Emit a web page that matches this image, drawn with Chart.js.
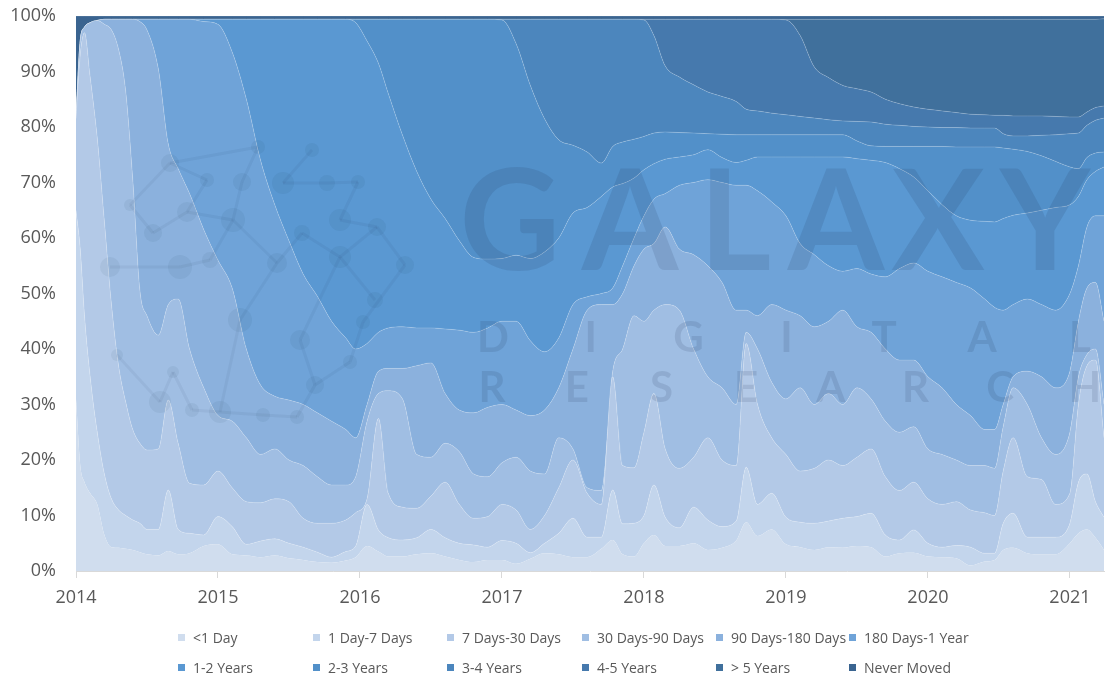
<!DOCTYPE html>
<html><head><meta charset="utf-8">
<script src="https://cdn.jsdelivr.net/npm/chart.js@4.4.1/dist/chart.umd.min.js"></script>
<style>
html,body{margin:0;padding:0;background:#fff;}
#wrap{position:relative;width:1105px;height:677px;overflow:hidden;}
#box{position:absolute;left:0;top:0;width:1105px;height:620px;}
#legend{position:absolute;left:0;top:0;width:1105px;height:677px;pointer-events:none;font-family:'Open Sans',sans-serif;font-size:14px;color:#595959;}
.li{position:absolute;height:20px;display:flex;align-items:center;white-space:nowrap;}
.sw{width:7px;height:7px;margin-right:8px;}
</style></head><body>
<div id="wrap"><div id="box"><canvas id="c"></canvas></div><div id="legend"></div></div>
<script>
// Decimal-year sample dates
const dates = [2014.00,2014.03,2014.06,2014.10,2014.15,2014.20,2014.25,2014.30,2014.35,2014.40,
2014.45,2014.50,2014.58,2014.65,2014.72,2014.80,2014.90,2015.00,2015.10,2015.20,
2015.30,2015.40,2015.50,2015.60,2015.70,2015.80,2015.90,2015.97,2016.05,2016.13,
2016.20,2016.30,2016.40,2016.50,2016.60,2016.70,2016.80,2016.90,2017.00,2017.10,
2017.20,2017.30,2017.40,2017.50,2017.60,2017.70,2017.78,2017.85,2017.93,2018.00,
2018.07,2018.15,2018.25,2018.35,2018.45,2018.55,2018.65,2018.72,2018.80,2018.90,
2019.00,2019.10,2019.20,2019.30,2019.40,2019.50,2019.60,2019.70,2019.80,2019.90,
2020.00,2020.10,2020.20,2020.30,2020.40,2020.47,2020.53,2020.60,2020.70,2020.80,
2020.90,2021.00,2021.06,2021.12,2021.18,2021.24];

const seriesNames = ['<1 Day','1 Day-7 Days','7 Days-30 Days','30 Days-90 Days','90 Days-180 Days','180 Days-1 Year',
  '1-2 Years','2-3 Years','3-4 Years','4-5 Years','> 5 Years','Never Moved'];
const yTicks = [0,10,20,30,40,50,60,70,80,90,100];
const xTicks = [2014,2015,2016,2017,2018,2019,2020,2021];

// Upper edge of each band, in % of supply (cumulative)
const lt1Day = [31,19,16,14,12,6.5,4.3,4.2,4.0,3.8,
3.4,3.0,2.8,3.6,3.0,3.2,4.5,4.8,3.0,2.8,
2.5,2.8,2.3,2.0,1.6,1.5,1.9,2.5,4.5,3.5,
2.6,2.6,3.0,3.2,2.6,2.0,1.6,2.0,2.0,1.3,
2.2,3.2,3.0,2.5,2.5,4.0,5.6,3.0,2.6,5.0,
6.5,4.5,4.5,5.0,3.8,4.2,5.5,8.8,6.3,7.5,
4.8,4.3,3.8,4.3,4.2,4.5,4.3,2.6,3.2,3.3,
2.6,2.5,2.3,1.0,1.7,2.0,3.8,4.2,3.2,3.0,
3.0,5.0,6.8,7.5,6.0,3.8];
const d1to7 = [65,58,46,35,25,17.5,13,11,10,9.2,
8.6,7.5,7.5,14.6,7.5,6.8,6.5,9.8,8.0,4.8,
5.4,5.8,5.0,4.3,3.4,2.5,3.5,4.5,12,7.4,
6.0,5.6,6.0,7.5,6.0,5.0,4.7,4.3,5.5,5.0,
3.3,5.0,6.8,9.5,6.1,6.1,14.6,8.5,8.6,10,
15.5,9.7,7.8,11.5,9.2,8.0,9.0,18.7,12,14,
9.7,8.8,8.6,9.0,9.5,9.8,10.4,6.5,5.6,7.4,
5.0,4.3,4.6,4.3,3.2,3.2,8.6,10.4,6.1,6.1,
6.1,8.6,16,17.5,12.5,9.7];
const d7to30 = [81.5,93,97,89,78,63,48,37,30.5,25.5,
23,21.8,22,30.8,23,15.8,15.5,18,15,12.5,
12.3,13,12.5,9.5,8.6,8.6,9.2,10.5,13,27.5,
14,11.5,11.3,13.5,16,12,9.5,9.8,12,11,
7.5,10,15,20,14,12,35,19,18.6,25,
32,22,18.5,20.5,24,20,19,41,30,24,
21,18,18.5,20,19,20.5,22,17,14.5,16,
13,12,12.5,11,10.5,10,18,24,17,16.5,
12,14,30,37,38,24];
const d30to90 = [81.5,95.5,98,98.8,99.2,98.5,97.5,94,86.5,70.5,
50.6,46,42.5,48,49,40,33,28,27,24,
21,22,20,19,17,15.5,15.5,17,27,32,
32.5,31,21,20.5,23,21.5,17.5,17,19.5,20.5,
18,17.5,24,22,15,14.5,36,40,46,45,
47,48,47,40,35,33,30,43,40,34,
31,33,30,32,30,33,31,27,25,26,
22,21,20,19,19,18.5,26,33,30,24,
21,25,35,39,40,30];
const d90to180 = [81.5,95.5,98,98.8,99.2,99.4,99.4,99.4,99.4,99.4,
99,97.5,90.5,77,72.5,68,61.5,56,51,40,
33.5,31.5,30.8,30,28.5,27,25.5,24,30,36,
36.5,36.5,37,37.5,32,29,28.5,29.5,30,29,
28,29,33,40,47,48,48,50,55,58,
59,62,58,57,55,52,47,47,46,48,
47,46,44,45,47,44,43,40,38,38,
35,33,30,28,25.5,25.5,30,35,36,35,
33,36,45,51,52,45];
const d180to1y = [81.5,95.5,98,98.8,99.2,99.4,99.4,99.4,99.4,99.4,
99.4,99.4,99.4,99.4,99.4,99.4,99,98.5,93.5,85,
74,66,59.5,53.5,49.5,45,42,40,41,43,
43.8,44,43.8,43.8,43.6,43.4,43,43.8,45,45,
41.5,39.5,42,48,49.4,50,51,55,60,64,
67,68,69.5,70,70.5,70,69.5,69.5,68.5,66.5,
64,59,57,55,54,54.5,53.5,53,54.5,55.5,
54,53,52,51,49,47.5,47,48,49,48,
47,50,55,62,64,64];
const y1to2 = [81.5,95.5,98,98.8,99.2,99.4,99.4,99.4,99.4,99.4,
99.4,99.4,99.4,99.4,99.4,99.4,99.4,99.4,99.4,99.4,
99.4,99.4,99.4,99.4,99.4,99.4,99.4,98.8,95.5,91.5,
86,78.5,72,67,63.5,59.5,56.5,56.2,56.3,56.9,
56.3,57.5,60,64.5,65.5,67.5,69.2,69.8,70.8,72.3,
73.4,74.2,74.6,75,75.9,74.5,73.6,74,74.6,74.6,
74.6,74.6,74.6,74.6,74.6,74.3,74,73.6,72.5,71,
68.5,66,64,63.2,63,62.9,63.5,64.1,64.5,65,
65.5,66,67.5,70.5,72,72.8];
const y2to3 = [81.5,95.5,98,98.8,99.2,99.4,99.4,99.4,99.4,99.4,
99.4,99.4,99.4,99.4,99.4,99.4,99.4,99.4,99.4,99.4,
99.4,99.4,99.4,99.4,99.4,99.4,99.4,99.4,99.4,99.4,
99.4,99.4,99.4,99.4,99.4,99.4,99.4,99.4,99.3,95,
87.5,81.5,77.7,76.7,75.5,73.5,76.5,77.3,77.8,78.3,
78.9,79.1,79,78.9,78.8,78.7,78.6,78.6,78.6,78.6,
78.6,78.6,78.6,78.6,78.6,77.5,76.6,76.5,76.5,76.5,
76.5,76.5,76.4,76.4,76.4,76.4,76.2,76,75.6,74.8,
73.8,72.8,72.5,74.5,75.3,75.5];
const y3to4 = [81.5,95.5,98,98.8,99.2,99.4,99.4,99.4,99.4,99.4,
99.4,99.4,99.4,99.4,99.4,99.4,99.4,99.4,99.4,99.4,
99.4,99.4,99.4,99.4,99.4,99.4,99.4,99.4,99.4,99.4,
99.4,99.4,99.4,99.4,99.4,99.4,99.4,99.4,99.4,99.4,
99.4,99.4,99.4,99.4,99.4,99.4,99.4,99.4,99.4,99.3,
96.5,91,89,87.6,86.3,85.5,84.6,83.2,82.9,82.5,
82.2,81.9,81.6,81.3,81.1,81,80.9,80.5,80.3,80.1,
80,79.9,79.9,79.8,79.8,79.8,78.8,78.4,78.4,78.5,
78.6,78.8,78.9,80.3,81.2,81.6];
const y4to5 = [81.5,95.5,98,98.8,99.2,99.4,99.4,99.4,99.4,99.4,
99.4,99.4,99.4,99.4,99.4,99.4,99.4,99.4,99.4,99.4,
99.4,99.4,99.4,99.4,99.4,99.4,99.4,99.4,99.4,99.4,
99.4,99.4,99.4,99.4,99.4,99.4,99.4,99.4,99.4,99.4,
99.4,99.4,99.4,99.4,99.4,99.4,99.4,99.4,99.4,99.4,
99.4,99.4,99.4,99.4,99.4,99.4,99.4,99.4,99.4,99.4,
99.3,96.5,90.8,88.9,87.5,86.9,86.3,85,84.2,83.6,
83.2,82.9,82.6,82.3,82.2,82.1,82.1,82,82,82,
81.9,81.8,81.8,82.7,83.5,83.8];
const over5y = [81.5,95.5,98,98.8,99.2,99.4,99.4,99.4,99.4,99.4,
99.4,99.4,99.4,99.4,99.4,99.4,99.4,99.4,99.4,99.4,
99.4,99.4,99.4,99.4,99.4,99.4,99.4,99.4,99.4,99.4,
99.4,99.4,99.4,99.4,99.4,99.4,99.4,99.4,99.4,99.4,
99.4,99.4,99.4,99.4,99.4,99.4,99.4,99.4,99.4,99.4,
99.4,99.4,99.4,99.4,99.4,99.4,99.4,99.4,99.4,99.4,
99.4,99.4,99.4,99.4,99.4,99.4,99.4,99.4,99.4,99.4,
99.4,99.4,99.4,99.4,99.4,99.4,99.4,99.4,99.4,99.4,
99.4,99.4,99.4,99.4,99.4,99.5];
const neverMoved = [100,100,100,100,100,100,100,100,100,100,
100,100,100,100,100,100,100,100,100,100,
100,100,100,100,100,100,100,100,100,100,
100,100,100,100,100,100,100,100,100,100,
100,100,100,100,100,100,100,100,100,100,
100,100,100,100,100,100,100,100,100,100,
100,100,100,100,100,100,100,100,100,100,
100,100,100,100,100,100,100,100,100,100,
100,100,100,100,100,100];

const seriesTops = [lt1Day,d1to7,d7to30,d30to90,d90to180,d180to1y,y1to2,y2to3,y3to4,y4to5,over5y,neverMoved];
const colors = ['#d0ddee','#c3d5ec','#b3c9e7','#a0bee3','#8bb1dd','#6fa3d8',
  '#5a98d2','#5290c9','#4c86bd','#4679ad','#40709c','#3a6490'];

const datasets = seriesTops.map((arr,i)=>({
  label: seriesNames[i],
  data: dates.map((d,j)=>({x:d,y:arr[j]})),
  backgroundColor: colors[i],
  borderColor: 'rgba(255,255,255,0.22)',
  borderWidth: i===0?0:0.8,
  pointRadius: 0,
  fill: i===0 ? 'origin' : '-1',
  cubicInterpolationMode: 'monotone'
}));

// faint network logo + lettering watermark
const logoNodes = [[170,163,9],[207,180,7],[242,182,9],[258,147,7],[283,183,11],[312,150,7],[327,183,8],[358,182,7],
  [340,220,11],[377,227,9],[130,205,6],[153,233,9],[187,212,10],[233,220,12],[277,263,10],[302,233,8],[340,257,11],
  [110,267,10],[180,267,12],[210,260,8],[117,355,6],[160,402,11],[173,372,6],[192,410,7],[220,412,11],[263,415,7],
  [297,417,7],[315,385,9],[350,362,7],[363,322,7],[405,265,9],[375,300,8],[240,320,12],[300,340,10]];
const logoEdges = [[0,1],[1,12],[3,2],[2,13],[4,5],[4,6],[6,7],[7,8],[8,9],[10,11],[11,12],[12,13],[13,14],[14,15],
  [15,16],[16,9],[17,18],[18,19],[19,13],[20,21],[21,22],[22,23],[23,24],[24,25],[25,26],[26,27],[27,28],[28,29],
  [29,30],[30,9],[31,16],[32,14],[32,24],[33,27],[33,16],[0,10],[3,0]];
const watermark = {
  id:'watermark',
  afterDatasetsDraw(chart){
    const {ctx, chartArea:a} = chart;
    ctx.save();
    ctx.beginPath(); ctx.rect(a.left,a.top,a.right-a.left,a.bottom-a.top); ctx.clip();
    ctx.strokeStyle='rgba(25,45,75,0.055)'; ctx.fillStyle='rgba(25,45,75,0.06)'; ctx.lineWidth=3;
    logoEdges.forEach(([p,q])=>{ctx.beginPath();ctx.moveTo(logoNodes[p][0],logoNodes[p][1]);ctx.lineTo(logoNodes[q][0],logoNodes[q][1]);ctx.stroke();});
    logoNodes.forEach(([x,y,r])=>{ctx.beginPath();ctx.arc(x,y,r,0,Math.PI*2);ctx.fill();});
    ctx.fillStyle='rgba(25,45,75,0.12)';
    ctx.textAlign='center'; ctx.textBaseline='alphabetic';
    ctx.font='700 139px Lato';
    const big=['G','A','L','A','X','Y'], bigX=[510,630,735,836,938,1045];
    big.forEach((ch,i)=>ctx.fillText(ch,bigX[i],270));
    ctx.font='700 42px Lato';
    'DIGITAL'.split('').forEach((ch,i)=>ctx.fillText(ch,493+97.8*i,352));
    'RESEARCH'.split('').forEach((ch,i)=>ctx.fillText(ch,492+84.7*i,402));
    ctx.restore();
  }
};

const chart = new Chart(document.getElementById('c'), {
  type:'line',
  data:{datasets},
  plugins:[watermark],
  options:{
    responsive:true, maintainAspectRatio:false, animation:false,
    layout:{padding:{left:0,right:1,top:16,bottom:0}},
    plugins:{legend:{display:false}, tooltip:{enabled:false}},
    elements:{line:{tension:0.3}},
    scales:{
      x:{type:'linear', min:2014, max:2021.24,
        afterBuildTicks:(s)=>{s.ticks = xTicks.map(v=>({value:v}));},
        ticks:{includeBounds:false, autoSkip:false, maxRotation:0, padding:9,
          color:'#595959', font:{family:'Open Sans', size:18},
          callback:(v)=>String(v)},
        grid:{drawOnChartArea:false, drawTicks:true, tickLength:7, color:'#d9d9d9'},
        border:{color:'#d9d9d9'},
        afterFit:(s)=>{s.height=49; s.paddingLeft=0; s.paddingRight=0;}
      },
      y:{min:0, max:100,
        afterBuildTicks:(s)=>{s.ticks = yTicks.map(v=>({value:v}));},
        ticks:{padding:20, color:'#595959', font:{family:'Open Sans', size:18},
          callback:(v)=>v+'%'},
        grid:{display:false, drawTicks:false},
        border:{display:false},
        afterFit:(s)=>{s.width=76; s.paddingTop=0; s.paddingBottom=0;}
      }
    }
  }
});

// Legend (2 rows x 6 columns)
const lg = document.getElementById('legend');
const colX = [178,313,447,582,716,849], rowY = [637,667];
chart.data.datasets.forEach((ds,i)=>{
  const el = document.createElement('div');
  el.className='li';
  el.style.left = colX[i%6]+'px';
  el.style.top = (rowY[Math.floor(i/6)]-10)+'px';
  const sw = document.createElement('span'); sw.className='sw'; sw.style.background=ds.backgroundColor;
  const tx = document.createElement('span'); tx.textContent = ds.label;
  el.appendChild(sw); el.appendChild(tx); lg.appendChild(el);
});
</script></body></html>
